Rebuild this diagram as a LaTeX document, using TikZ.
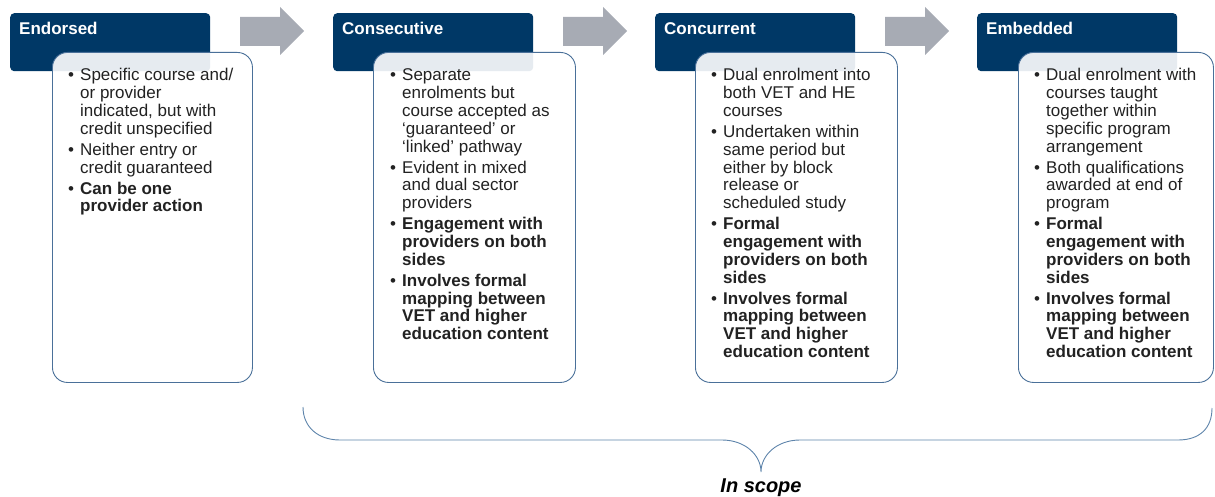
\documentclass[tikz,border=0pt]{standalone}
\usepackage{fontspec}
\setmainfont{Liberation Sans}
\definecolor{navy}{HTML}{003866}
\definecolor{boxline}{HTML}{4A7099}
\definecolor{braceblue}{HTML}{5E84AB}
\definecolor{arrowgray}{HTML}{A7ABB4}
\definecolor{txtgray}{HTML}{222222}
\newcommand{\bl}{\makebox[12pt][l]{\textbullet}}
\newcommand{\gap}{\\[3.2pt]}
\tikzset{
  hdr/.style={fill=navy, rounded corners=4pt, anchor=north west, minimum width=200pt, minimum height=58pt, inner sep=0pt},
  hdrtxt/.style={anchor=base west, inner sep=0pt, text=white, font=\fontsize{17}{18}\selectfont\bfseries},
  card/.style={draw=boxline, line width=0.9pt, fill=white, fill opacity=0.9, rounded corners=15pt, anchor=north west, minimum height=330pt, inner sep=0pt},
  bullets/.style={anchor=base west, inner sep=0pt, text=txtgray, font=\fontsize{17}{17.8}\selectfont},
}
\begin{document}
\begin{tikzpicture}[x=1pt,y=-1pt]
        \useasboundingbox (0,0) rectangle (1215,497);
        % headers
        \node[hdr](endorsed)at(10,13){};
        \node[hdr](consecutive)at(333,13){};
        \node[hdr](concurrent)at(655,13){};
        \node[hdr](embedded)at(977,13){};
        \node[hdrtxt](endorsedT)at([shift={(9,22)}]endorsed.north west){Endorsed};
        \node[hdrtxt](consecutiveT)at([shift={(9,22)}]consecutive.north west){Consecutive};
        \node[hdrtxt](concurrentT)at([shift={(9,22)}]concurrent.north west){Concurrent};
        \node[hdrtxt](embeddedT)at([shift={(9,22)}]embedded.north west){Embedded};
        % block arrows
        \foreach \x in {240,563,885} \fill[arrowgray] (\x,17) -- ({\x+40},17) -- ({\x+40},7) -- ({\x+64},31) -- ({\x+40},55) -- ({\x+40},46) -- (\x,46) -- cycle;
        % cards
        \node[card,minimum width=200pt](endorsedC)at(52,52){};
        \node[card,minimum width=202pt](consecutiveC)at(373,52){};
        \node[card,minimum width=202pt](concurrentC)at(695,52){};
        \node[card,minimum width=195pt](embeddedC)at(1018,52){};
        \node[bullets](endorsedL)at(68,81){\begin{tabular}[t]{@{}l@{}l@{}}
            \bl & Specific course and/\\ & or provider\\ & indicated, but with\\ & credit unspecified\gap
            \bl & Neither entry or\\ & credit guaranteed\gap
            \bl & \textbf{Can be one}\\ & \textbf{provider action}
          \end{tabular}};
        \node[bullets](consecutiveL)at(390,81){\begin{tabular}[t]{@{}l@{}l@{}}
            \bl & Separate\\ & enrolments but\\ & course accepted as\\ & ‘guaranteed’ or\\ & ‘linked’ pathway\gap
            \bl & Evident in mixed\\ & and dual sector\\ & providers\gap
            \bl & \textbf{Engagement with}\\ & \textbf{providers on both}\\ & \textbf{sides}\gap
            \bl & \textbf{Involves formal}\\ & \textbf{mapping between}\\ & \textbf{VET and higher}\\ & \textbf{education content}
          \end{tabular}};
        \node[bullets](concurrentL)at(711,81){\begin{tabular}[t]{@{}l@{}l@{}}
            \bl & Dual enrolment into\\ & both VET and HE\\ & courses\gap
            \bl & Undertaken within\\ & same period but\\ & either by block\\ & release or\\ & scheduled study\gap
            \bl & \textbf{Formal}\\ & \textbf{engagement with}\\ & \textbf{providers on both}\\ & \textbf{sides}\gap
            \bl & \textbf{Involves formal}\\ & \textbf{mapping between}\\ & \textbf{VET and higher}\\ & \textbf{education content}
          \end{tabular}};
        \node[bullets](embeddedL)at(1034,81){\begin{tabular}[t]{@{}l@{}l@{}}
            \bl & Dual enrolment with\\ & courses taught\\ & together within\\ & specific program\\ & arrangement\gap
            \bl & Both qualifications\\ & awarded at end of\\ & program\gap
            \bl & \textbf{Formal}\\ & \textbf{engagement with}\\ & \textbf{providers on both}\\ & \textbf{sides}\gap
            \bl & \textbf{Involves formal}\\ & \textbf{mapping between}\\ & \textbf{VET and higher}\\ & \textbf{education content}
          \end{tabular}};
        % brace
        \draw[braceblue,line width=0.9pt] (303,407) .. controls (303,427) and (318,440) .. (340,440) -- (722,440)
          .. controls (745,440) and (761,455) .. (761,472) .. controls (761,455) and (777,440) .. (800,440)
          -- (1178,440) .. controls (1200,440) and (1212,428) .. (1212,408);
        \node[anchor=base,inner sep=0pt,font=\fontsize{20}{22}\selectfont\bfseries\itshape](scope)at(761,492){In scope};
    \end{tikzpicture}
\end{document}
